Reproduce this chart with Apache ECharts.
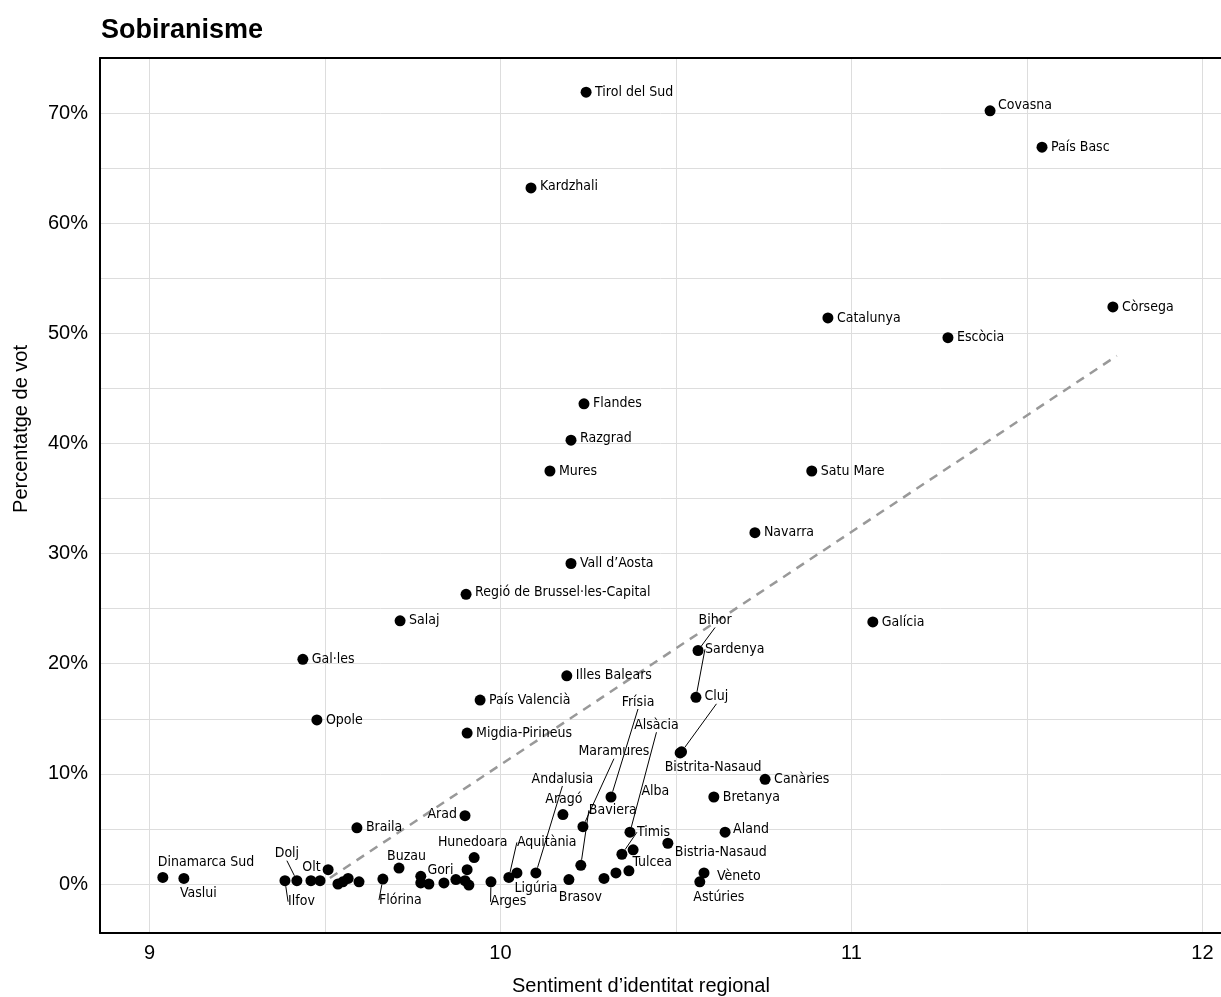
<!DOCTYPE html>
<html><head><meta charset="utf-8">
<script src="https://cdn.jsdelivr.net/npm/echarts@6/dist/echarts.min.js"></script>
<style>html,body{margin:0;padding:0;background:#fff}#c{width:1221px;height:997px}</style>
</head><body><div id="c"></div>
<script>
// ---- data ----
const regions = ['Tirol del Sud','Covasna','País Basc','Kardzhali','Còrsega','Catalunya','Escòcia','Flandes','Razgrad','Mures','Satu Mare','Navarra','Vall d’Aosta','Regió de Brussel·les-Capital','Salaj','Galícia','Gal·les','Bihor','Sardenya','Illes Balears','Cluj','Bistrita-Nasaud','País Valencià','Opole','Migdia-Pirineus','Canàries','Bretanya','Aland','Bistria-Nasaud','Vèneto','Astúries','Frísia','Maramures','Alsàcia','Baviera','Timis','Tulcea','Alba','Andalusia','Aragó','Aquitània','Ligúria','Arges','Brasov','Hunedoara','Arad','Gori','Buzau','Flórina','Braila','Olt','Dolj','Ilfov','Dinamarca Sud','Vaslui','','','','','','','','','','','','','','',''];
const identity = [10.244,11.395,11.543,10.087,11.745,10.933,11.275,10.238,10.201,10.141,10.887,10.725,10.201,9.902,9.714,11.061,9.437,10.563,10.557,10.189,10.516,10.512,9.942,9.477,9.905,10.754,10.608,10.640,10.477,10.580,10.568,10.315,10.235,10.369,10.229,10.346,10.378,10.366,10.101,10.178,10.024,10.047,9.973,10.195,9.925,9.899,9.839,9.711,9.665,9.591,9.460,9.420,9.386,9.038,9.098,9.486,9.509,9.537,9.551,9.566,9.597,9.773,9.773,9.796,9.873,9.899,9.905,9.910,10.295,10.329];
const vote = [71.9,70.2,66.9,63.2,52.4,51.4,49.6,43.6,40.3,37.5,37.5,31.9,29.1,26.3,23.9,23.8,20.4,21.2,16.95,18.9,12.0,11.9,16.7,14.9,13.7,9.5,7.9,4.7,3.7,1.0,0.2,7.9,5.2,4.7,1.7,2.7,3.1,1.2,1.0,6.3,0.6,1.0,0.2,0.4,2.4,6.2,0.1,1.45,0.45,5.1,0.3,0.3,0.3,0.6,0.5,0.3,1.3,0.0,0.2,0.5,0.2,0.7,0.1,0.0,0.4,0.3,1.3,-0.1,0.5,1.0];
const trendX = [9.514, 11.756];
const trendY = [0.54, 47.96];
const xTickLabels = [9, 10, 11, 12];
const xGridValues = [9, 9.5, 10, 10.5, 11, 11.5, 12];
const yTickLabels = [0, 10, 20, 30, 40, 50, 60, 70];
const yGridValues = [0, 5, 10, 15, 20, 25, 30, 35, 40, 45, 50, 55, 60, 65, 70];

// ---- label placement: [dx, dy, anchor (l/c/r), leader line] in px from the point ----
const placement = {
  'Covasna':[8,-6,'l'],'Kardzhali':[9,-2,'l'],'Razgrad':[9,-2,'l'],'Regió de Brussel·les-Capital':[9,-2,'l'],
  'Aland':[8,-3,'l'],'Vèneto':[13,3,'l'],'Tulcea':[19,13,'c'],'Timis':[15,-22,'l',1],'Alba':[26.5,-79,'c'],
  'Alsàcia':[26.5,-107,'c',1],'Frísia':[27,-95,'c',1],'Maramures':[31,-75,'c',1],'Baviera':[32,-55,'c',1],
  'Andalusia':[26.5,-94,'c',1],'Aragó':[1,-15,'c'],'Aquitània':[8,-35,'l',1],'Ligúria':[19,15,'c'],
  'Brasov':[11.5,18,'c'],'Arges':[17.5,20,'c',1],'Hunedoara':[-1.5,-15,'c'],'Arad':[-8,-1,'r'],'Gori':[-3.5,-13,'c'],
  'Buzau':[7.5,-12,'c'],'Flórina':[17.5,21,'c',1],'Olt':[0.5,-13,'c'],'Dolj':[-10,-27,'c',1],'Ilfov':[16.5,21,'c',1],
  'Dinamarca Sud':[-5,-15,'l'],'Vaslui':[-4,15,'l'],'Bihor':[17,-30,'c',1],'Sardenya':[9,-48,'l',1],
  'Cluj':[23,-55,'l',1],'Bistrita-Nasaud':[33,14,'c'],'Bistria-Nasaud':[7,9,'l'],'Astúries':[19,16,'c']
};
const defaultPlacement = [9, 0, 'l'];
const alignOf = { l: 'left', c: 'center', r: 'right' };

const narrow = '"Liberation Sans Narrow","DejaVu Sans Condensed","Roboto Condensed",sans-serif';
const sans = '"Liberation Sans",Arial,Helvetica,sans-serif';
const xMin = 8.859, xMax = 12.053, yMin = -4.45, yMax = 75;

const points = regions.map((n, i) => {
  const pl = placement[n] || defaultPlacement;
  return {
    name: n,
    value: [identity[i], vote[i]],
    label: { show: n !== '', align: alignOf[pl[2]] },
    labelLine: { show: !!pl[3] }
  };
});

const chart = echarts.init(document.getElementById('c'), null, { renderer: 'canvas' });
chart.setOption({
  animation: false,
  backgroundColor: '#fff',
  title: {
    text: 'Sobiranisme', left: 96, top: 12,
    textStyle: { fontSize: 27, fontWeight: 'bold', fontFamily: sans, color: '#000' }
  },
  grid: { left: 100, right: 0, top: 58, bottom: 64, containLabel: false },
  xAxis: [{
    type: 'value', min: xMin, max: xMax, position: 'bottom',
    axisLine: { show: true, onZero: false, lineStyle: { color: '#000', width: 2 } },
    axisTick: { show: false, customValues: xGridValues },
    axisLabel: { customValues: xTickLabels, fontSize: 20, color: '#000', margin: 10, fontFamily: sans },
    splitLine: { show: true, lineStyle: { color: '#dddddd', width: 1 } }
  }, {
    type: 'value', min: xMin, max: xMax, position: 'top',
    axisLine: { show: true, onZero: false, lineStyle: { color: '#000', width: 2 } },
    axisTick: { show: false }, axisLabel: { show: false }, splitLine: { show: false }
  }],
  yAxis: {
    type: 'value', min: yMin, max: yMax,
    axisLine: { show: true, onZero: false, lineStyle: { color: '#000', width: 2 } },
    axisTick: { show: false, customValues: yGridValues },
    axisLabel: { customValues: yTickLabels, formatter: v => v + '%', fontSize: 20, color: '#000', margin: 12, fontFamily: sans },
    splitLine: { show: true, lineStyle: { color: '#dddddd', width: 1 } }
  },
  graphic: [
    { type: 'text', left: 11, top: 345, rotation: Math.PI / 2,
      style: { text: 'Percentatge de vot', fontSize: 20, fontFamily: sans, fill: '#000' } },
    { type: 'text', left: 512, top: 976,
      style: { text: 'Sentiment d’identitat regional', fontSize: 20, fontFamily: sans, fill: '#000' } }
  ],
  series: [{
    type: 'line', data: trendX.map((x, i) => [x, trendY[i]]), symbol: 'none', silent: true, z: 1,
    lineStyle: { color: '#999', width: 2.5, type: [9, 7] }
  }, {
    type: 'scatter', data: points, symbolSize: 11, z: 3,
    itemStyle: { color: '#000', opacity: 1 },
    label: {
      show: true, position: 'inside', align: 'left', verticalAlign: 'middle',
      formatter: '{b}', color: '#000', fontSize: 14, fontFamily: narrow
    },
    labelLine: { lineStyle: { color: '#000', width: 1 } },
    labelLayout: function (p) {
      const pl = placement[regions[p.dataIndex]] || defaultPlacement;
      return { dx: pl[0], dy: pl[1] };
    },
    emphasis: { disabled: true }
  }]
});
</script></body></html>
